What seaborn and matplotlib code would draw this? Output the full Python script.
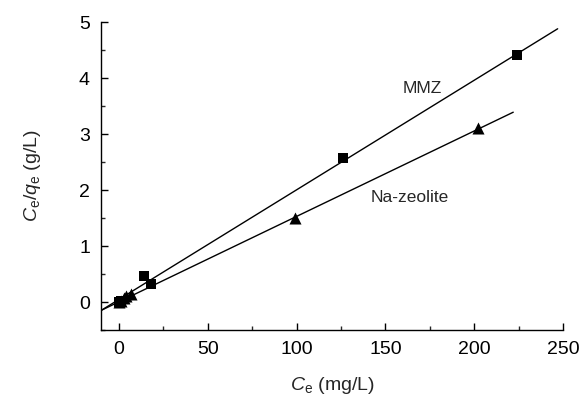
import matplotlib
matplotlib.use("Agg")
import matplotlib.pyplot as plt
import seaborn as sns
import pandas as pd

# data
mmz_ce = [0, 1, 14, 18, 126, 224]
mmz_ratio = [0.0, 0.02, 0.46, 0.33, 2.57, 4.42]
na_ce = [0, 1, 3, 4, 7, 99, 202]
na_ratio = [0.0, 0.02, 0.08, 0.11, 0.14, 1.50, 3.10]

# fitted lines (end points)
mmz_fit_x = [-10, 247]
mmz_fit_y = [-0.15, 4.88]
na_fit_x = [-10, 222]
na_fit_y = [-0.15, 3.39]

sns.set_style("ticks")
plt.rcParams['font.family'] = ['Liberation Sans', 'DejaVu Sans']
plt.rcParams['mathtext.fontset'] = 'custom'
plt.rcParams['mathtext.rm'] = 'Liberation Sans'
plt.rcParams['mathtext.it'] = 'Liberation Sans:italic'

fig = plt.figure(figsize=(5.81, 4.01), dpi=100)
ax = fig.add_axes([0.174, 0.177, 0.795, 0.768])

fits = pd.concat([
    pd.DataFrame({"ce": mmz_fit_x, "r": mmz_fit_y, "s": "MMZ"}),
    pd.DataFrame({"ce": na_fit_x, "r": na_fit_y, "s": "Na-zeolite"}),
])

sns.lineplot(data=fits, x="ce", y="r", units="s", estimator=None,
             color="black", lw=1.0, ax=ax)
sns.scatterplot(x=mmz_ce, y=mmz_ratio, marker="s", color="black", s=55,
                linewidth=0, legend=False, ax=ax, zorder=3)
sns.scatterplot(x=na_ce, y=na_ratio, marker="^", color="black", s=75,
                linewidth=0, legend=False, ax=ax, zorder=3)

ax.text(171, 3.82, "MMZ", fontsize=12.5, ha="center", va="center")
ax.text(164, 1.86, "Na-zeolite", fontsize=12.5, ha="center", va="center")

ax.set_xlim(-10, 250)
ax.set_ylim(-0.5, 5)
ax.set_xticks([0, 50, 100, 150, 200, 250])
ax.set_xticks([25, 75, 125, 175, 225], minor=True)
ax.set_yticks([0, 1, 2, 3, 4, 5])
ax.set_yticks([-0.5, 0.5, 1.5, 2.5, 3.5, 4.5], minor=True)
ax.tick_params(direction="in", labelsize=14, length=5, width=1, colors="black", pad=8)
ax.tick_params(which="minor", direction="in", length=3, width=1)
sns.despine(ax=ax)
for sp in ["left", "bottom"]:
    ax.spines[sp].set_linewidth(1.0)
    ax.spines[sp].set_color("black")

ax.set_xlabel(r"$\mathit{C}_\mathrm{e}$ (mg/L)", fontsize=14, labelpad=12)
ax.set_ylabel(r"$\mathit{C}_\mathrm{e}/\mathit{q}_\mathrm{e}$ (g/L)", fontsize=14, labelpad=26)

fig.savefig("out.png", dpi=100)
